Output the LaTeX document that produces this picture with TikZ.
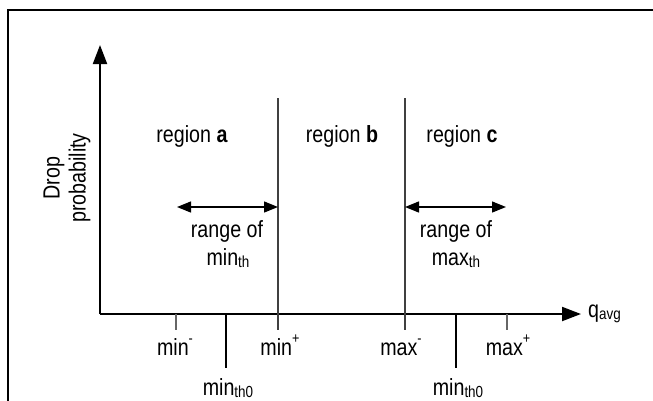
\documentclass[tikz,border=0pt]{standalone}
\usepackage{fontspec}
\setmainfont{Liberation Sans}[FakeStretch=0.84]
\usetikzlibrary{arrows.meta}
\newcommand{\lsub}[1]{\raisebox{-0.12em}{\fontsize{16}{16}\selectfont #1}}
\newcommand{\lsup}[1]{\raisebox{0.48em}{\fontsize{15}{15}\selectfont #1}}
\begin{document}
\begin{tikzpicture}[x=1pt,y=-1pt,
  font=\fontsize{23.4}{26}\selectfont,
  axis/.style={line width=2pt,-{Triangle[length=19pt,width=14pt]}},
  rangearrow/.style={line width=1.3pt,{Triangle[length=14pt,width=11pt]}-{Triangle[length=14pt,width=11pt]}},
  regionline/.style={line width=1.1pt,black!75},
  thintick/.style={line width=1.1pt,black!60},
  thicktick/.style={line width=2pt},
  lbl/.style={anchor=base,inner sep=0pt}]
\useasboundingbox (0,0) rectangle (653,400);
% frame
\coordinate (fb) at (7.5,402);
\coordinate (fc) at (7.5,10);
\coordinate (fr) at (655,10);
\draw[line width=2pt] (fb) -- (fc) -- (fr);
% axes
\coordinate (O) at (100,314);
\coordinate (ytop) at (100,45);
\coordinate (xend) at (581,314);
\draw[axis] (O) -- (ytop);
\draw[axis] (O) -- (xend);
\node[lbl,anchor=base west] (q) at (588,317) {q\lsub{avg}};
% region lines
\coordinate (v1t) at (278,98);
\coordinate (v1b) at (278,330);
\coordinate (v2t) at (405,98);
\coordinate (v2b) at (405,330);
\draw[regionline] (v1t) -- (v1b);
\draw[regionline] (v2t) -- (v2b);
% ticks
\coordinate (t1a) at (176,314); \coordinate (t1b) at (176,330);
\coordinate (t2a) at (226,314); \coordinate (t2b) at (226,368);
\coordinate (t3a) at (456,314); \coordinate (t3b) at (456,368);
\coordinate (t4a) at (507,314); \coordinate (t4b) at (507,330);
\draw[thintick] (t1a) -- (t1b);
\draw[thintick] (t4a) -- (t4b);
\draw[thicktick] (t2a) -- (t2b);
\draw[thicktick] (t3a) -- (t3b);
% tick labels
\node[lbl] (mn) at (175,355) {min\lsup{-}};
\node[lbl] (mp) at (280,355) {min\lsup{+}};
\node[lbl] (xn) at (401,355) {max\lsup{-}};
\node[lbl] (xp) at (508,355) {max\lsup{+}};
\node[lbl] (m0a) at (228,395) {min\lsub{th0}};
\node[lbl] (m0b) at (458,395) {min\lsub{th0}};
% region labels
\node[lbl] (ra) at (192,142) {region \textbf{a}};
\node[lbl] (rb) at (342,142) {region \textbf{b}};
\node[lbl] (rc) at (462,142) {region \textbf{c}};
% range arrows
\coordinate (a1l) at (177,207);
\coordinate (a1r) at (278,207);
\coordinate (a2l) at (405,207);
\coordinate (a2r) at (506,207);
\draw[rangearrow] (a1l) -- (a1r);
\draw[rangearrow] (a2l) -- (a2r);
\node[lbl] (rg1) at (227,237) {range of};
\node[lbl] (mt1) at (228,265) {min\lsub{th}};
\node[lbl] (rg2) at (456,237) {range of};
\node[lbl] (mt2) at (456,265) {max\lsub{th}};
% y label
\node[rotate=90,align=center,inner sep=0pt,font=\fontsize{23.4}{26}\selectfont] (yl) at (67,178) {Drop\\probability};
\end{tikzpicture}
\end{document}
